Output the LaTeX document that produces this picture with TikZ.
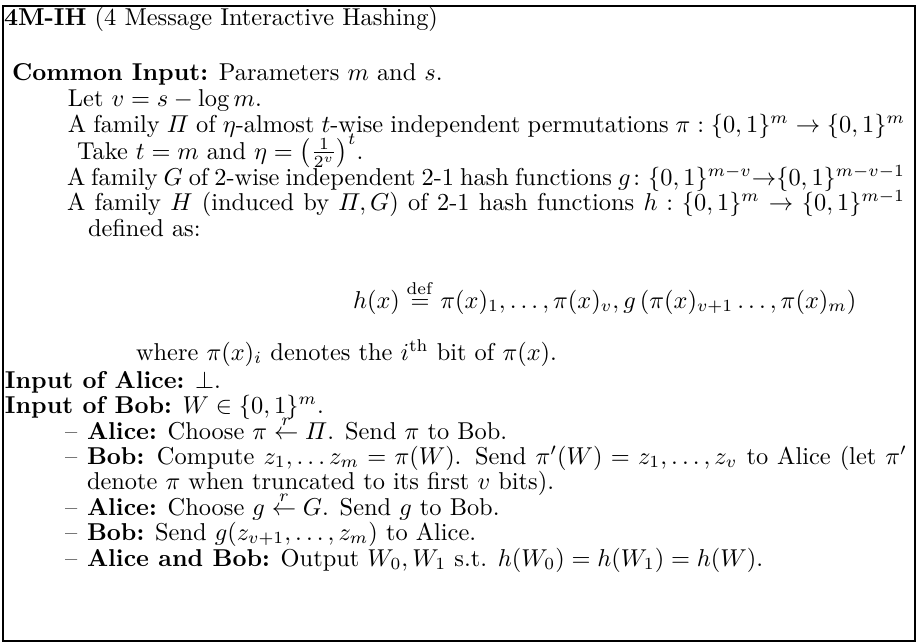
\documentclass[tikz,border=0pt]{standalone}
\usepackage{amsmath,amssymb}
\begin{document}
\begin{tikzpicture}[x=0.41pt,y=-0.41pt,
  ln/.style={anchor=base west,inner sep=0pt,outer sep=0pt},
  frame/.style={draw=black,line width=0.6pt}]
\useasboundingbox (0,0) rectangle (916,642);
\draw[frame] (3,6) rectangle (915,641);
\node[ln] (title) at (4,25) {\textbf{4M-IH} (4 Message Interactive Hashing)};
\node[ln] (common) at (12,80) {\textbf{Common Input:} Parameters $m$ and $s$.};
\node[ln] (let) at (68,106) {Let $v=s-\log m$.};
\node[ln] (pi) at (68,132) {\makebox[343.2pt][s]{A family $\varPi$ of $\eta$-almost $t$-wise independent permutations $\pi:\{0,1\}^m\rightarrow\{0,1\}^m$}};
\node[ln] (take) at (77,159) {Take $t=m$ and $\eta=\left(\frac{1}{2^v}\right)^t$.};
\node[ln] (gfam) at (67,185) {\makebox[343.6pt][s]{A family $G$ of 2-wise independent 2-1 hash functions $g\colon\{0,1\}^{m-v}{\rightarrow}\{0,1\}^{m-v-1}$}};
\node[ln] (hfam) at (67,210) {\makebox[343.6pt][s]{A family $H$ (induced by $\varPi,G$) of 2-1 hash functions $h:\{0,1\}^m\rightarrow\{0,1\}^{m-1}$}};
\node[ln] (defd) at (88,236) {defined as:};
\node[ln] (hx) at (353,308) {$\displaystyle h(x)\stackrel{\rm def}{=}\pi(x)_1,\ldots,\pi(x)_v,g\left(\pi(x)_{v+1}\ldots,\pi(x)_m\right)$};
\node[ln] (where) at (136,360) {where $\pi(x)_i$ denotes the $i^{\rm th}$ bit of $\pi(x)$.};
\node[ln] (inA) at (5,388) {\textbf{Input of Alice:} $\perp$.};
\node[ln] (inB) at (5,413) {\textbf{Input of Bob:} $W\in\{0,1\}^m$.};
\node[ln] (d1) at (65,439) {--};
\node[ln] (s1) at (87,439) {\textbf{Alice:} Choose $\pi\stackrel{r}{\leftarrow}\varPi$. Send $\pi$ to Bob.};
\node[ln] (d2) at (65,464) {--};
\node[ln] (s2) at (87,464) {\makebox[336.2pt][s]{\textbf{Bob:} Compute $z_1,\ldots z_m=\pi(W)$. Send $\pi'(W)=z_1,\ldots,z_v$ to Alice (let $\pi'$}};
\node[ln] (s2b) at (87,489) {denote $\pi$ when truncated to its first $v$ bits).};
\node[ln] (d3) at (65,515) {--};
\node[ln] (s3) at (87,515) {\textbf{Alice:} Choose $g\stackrel{r}{\leftarrow}G$. Send $g$ to Bob.};
\node[ln] (d4) at (65,540) {--};
\node[ln] (s4) at (87,540) {\textbf{Bob:} Send $g(z_{v+1},\ldots,z_m)$ to Alice.};
\node[ln] (d5) at (65,566) {--};
\node[ln] (s5) at (87,566) {\textbf{Alice and Bob:} Output $W_0,W_1$ s.t. $h(W_0)=h(W_1)=h(W)$.};
\end{tikzpicture}
\end{document}
